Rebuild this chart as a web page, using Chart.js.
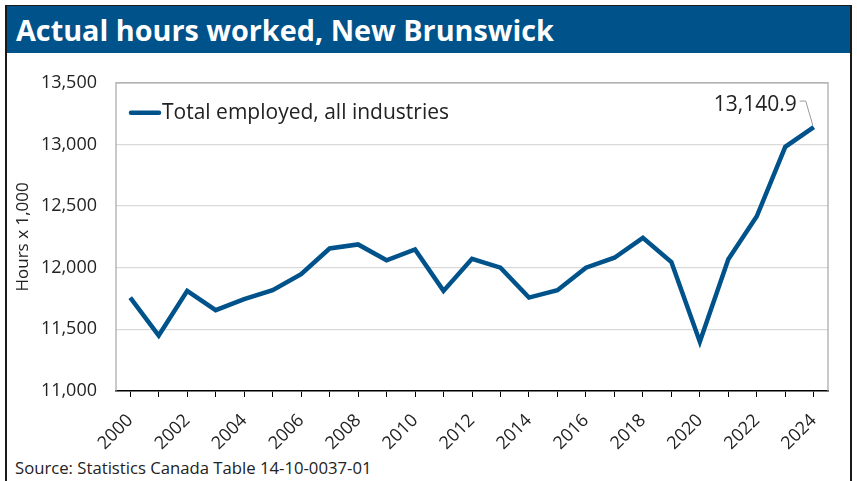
<!DOCTYPE html>
<html>
<head>
<meta charset="utf-8">
<script src="https://cdn.jsdelivr.net/npm/chart.js@4.4.1/dist/chart.umd.min.js"></script>
<style>
    body { margin: 0; background: #fff; font-family: "Open Sans", sans-serif; }
    #frame {
        position: absolute; left: 5px; top: 5px; width: 843px; height: 490px;
        border: 2px solid #1a1a1a;
    }
    #title {
        position: absolute; left: 0; top: -1px; width: 843px; height: 47px;
        background: #00528a; color: #fff;
        font: bold 28.8px "Open Sans", sans-serif; line-height: 47px;
        padding-left: 9px; box-sizing: border-box;
    }
    #wrap { position: absolute; left: 6px; top: 53px; width: 845px; height: 400px; }
    #source {
        position: absolute; left: 15px; top: 456px;
        font: 16.7px "Open Sans", sans-serif; color: #222;
    }
</style>
</head>
<body>
<div id="frame"><div id="title">Actual hours worked, New Brunswick</div></div>
<div id="wrap"><canvas id="hoursChart"></canvas></div>
<div id="source">Source: Statistics Canada Table 14-10-0037-01</div>
<script>
    // data (hours x 1,000)
    var years = ['2000','2001','2002','2003','2004','2005','2006','2007','2008','2009','2010','2011','2012',
                 '2013','2014','2015','2016','2017','2018','2019','2020','2021','2022','2023','2024'];
    var totalEmployed = [11758, 11450, 11812, 11656, 11745, 11818, 11947, 12156, 12189, 12060, 12148, 11812, 12072,
                         12000, 11758, 11818, 12000, 12081, 12242, 12046, 11400, 12068, 12417, 12981, 13140.9];
    var seriesLabel = 'Total employed, all industries';
    var yTicks = { min: 11000, max: 13500, step: 500 };

    var lineColor = '#00538a';
    var textColor = '#222';

    // grey frame round the plot (top, left, right)
    var plotFrame = {
        id: 'plotFrame',
        beforeDatasetsDraw: function (chart) {
            var a = chart.chartArea, c = chart.ctx;
            c.save();
            c.strokeStyle = '#a6a6a6';
            c.lineWidth = 1.2;
            c.beginPath();
            c.moveTo(a.left, a.bottom);
            c.lineTo(a.left, a.top);
            c.lineTo(a.right, a.top);
            c.lineTo(a.right, a.bottom);
            c.stroke();
            c.restore();
        }
    };

    // legend inside the plot + label on the last point
    var extras = {
        id: 'extras',
        afterDatasetsDraw: function (chart) {
            var a = chart.chartArea, c = chart.ctx;
            var ds = chart.data.datasets[0];
            c.save();
            // legend
            var ly = a.top + 30;
            c.strokeStyle = ds.borderColor;
            c.lineWidth = 4.5;
            c.lineCap = 'round';
            c.beginPath();
            c.moveTo(a.left + 15, ly);
            c.lineTo(a.left + 43, ly);
            c.stroke();
            c.fillStyle = textColor;
            c.font = '21px "Open Sans"';
            c.textBaseline = 'middle';
            c.textAlign = 'left';
            c.fillText(ds.label, a.left + 46, ly);

            // data label on the last point
            var meta = chart.getDatasetMeta(0);
            var last = meta.data[meta.data.length - 1];
            var v = ds.data[ds.data.length - 1];
            var txt = v.toLocaleString('en-US', { minimumFractionDigits: 1, maximumFractionDigits: 1 });
            c.font = '21px "Open Sans"';
            c.textAlign = 'right';
            c.fillText(txt, last.x - 17, last.y - 22);
            c.strokeStyle = '#9a9a9a';
            c.lineWidth = 1;
            c.lineCap = 'butt';
            c.beginPath();
            c.moveTo(last.x - 14, last.y - 26);
            c.lineTo(last.x - 8, last.y - 26);
            c.lineTo(last.x - 1, last.y - 2);
            c.stroke();
            c.restore();
        }
    };

    var ctx = document.getElementById('hoursChart');
    var hoursChart = new Chart(ctx, {
        type: 'line',
        data: {
            labels: years,
            datasets: [{
                label: seriesLabel,
                data: totalEmployed,
                borderColor: lineColor,
                borderWidth: 4.5,
                pointRadius: 0,
                tension: 0,
                fill: false
            }]
        },
        options: {
            responsive: true,
            maintainAspectRatio: false,
            animation: false,
            layout: { padding: { top: 27, right: 23, left: 0, bottom: 0 } },
            plugins: { legend: { display: false }, tooltip: { enabled: false } },
            scales: {
                x: {
                    offset: true,
                    afterFit: function (s) { s.height = 62; },
                    grid: { display: true, drawOnChartArea: false, drawTicks: true, tickLength: 6, color: '#000', offset: false },
                    border: { display: true, color: '#000', width: 1.5 },
                    ticks: {
                        autoSkip: false, maxRotation: 45, minRotation: 45,
                        color: textColor, font: { family: 'Open Sans', size: 18 }, padding: 13,
                        callback: function (val, i) { return i % 2 === 0 ? this.getLabelForValue(val) : ''; }
                    }
                },
                y: {
                    min: yTicks.min, max: yTicks.max,
                    afterFit: function (s) { s.width = 110; },
                    grid: { color: '#d9d9d9', lineWidth: 1.2, drawTicks: false },
                    border: { display: false },
                    ticks: { stepSize: yTicks.step, padding: 19, color: textColor, font: { family: 'Open Sans', size: 18 } },
                    title: {
                        display: true, text: 'Hours x 1,000', color: textColor,
                        font: { family: 'Open Sans', size: 17 }, padding: { top: 7, bottom: 0 }
                    }
                }
            }
        },
        plugins: [plotFrame, extras]
    });
</script>
</body>
</html>
